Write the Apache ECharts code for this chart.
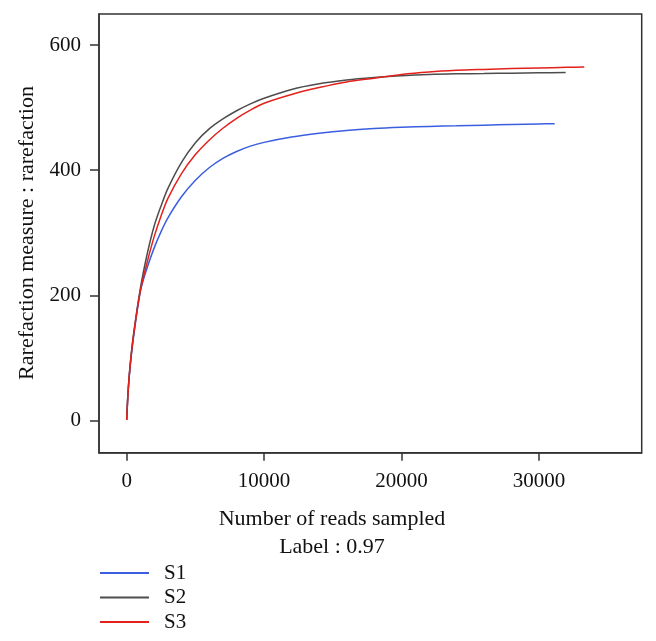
<!DOCTYPE html>
<html>
<head>
<meta charset="utf-8">
<script src="https://cdn.jsdelivr.net/npm/echarts@6/dist/echarts.min.js"></script>
<style>
html,body{margin:0;padding:0;background:#fff;}
#chart{width:656px;height:641px;}
</style>
</head>
<body>
<div id="chart"></div>
<script>
// ---- data ----
const seriesNames = ['S1', 'S2', 'S3'];
const s1X = [0, 100, 250, 500, 1000, 1500, 2000, 2500, 3000, 4000, 5000, 6000, 7000, 8000, 9000, 10000, 12000, 14000, 16000, 18000, 20000, 22000, 24000, 26000, 28000, 30000, 31150];
const s1Y = [1, 45, 86, 134, 207, 245, 276, 302, 324, 358, 384, 404, 419, 430, 438.5, 444.5, 453, 459, 463.5, 466.5, 468.5, 470, 471, 472, 473, 474, 474.3];
const s2X = [0, 100, 250, 500, 1000, 1500, 2000, 2500, 3000, 4000, 5000, 6000, 7000, 8000, 9000, 10000, 12000, 14000, 16000, 18000, 20000, 22000, 24000, 26000, 28000, 30000, 31950];
const s2Y = [1, 46, 89, 138, 212, 267, 311, 343, 371, 413, 444, 466, 482, 495, 506, 515, 529, 538, 544, 548, 551, 553, 554, 554.5, 555, 555.5, 556];
const s3X = [0, 100, 250, 500, 1000, 1500, 2000, 2500, 3000, 4000, 5000, 6000, 7000, 8000, 9000, 10000, 12000, 14000, 16000, 18000, 20000, 22000, 24000, 26000, 28000, 30000, 32000, 33300];
const s3Y = [1, 46, 88, 137, 208, 254, 294, 327, 355, 395, 425, 448, 467, 483, 496, 507, 521, 532, 541, 547, 553, 557, 559.5, 561, 562.3, 563.3, 564.3, 565];
const xTicks = [0, 10000, 20000, 30000];
const yTicks = [0, 200, 400, 600];
const xTitle = 'Number of reads sampled';
const subTitle = 'Label : 0.97';
const yTitle = 'Rarefaction measure : rarefaction';

const colors = ['#3b5ee0', '#4d4d4d', '#e3211c'];
const FONT = 'Liberation Serif';

function pairs(xs, ys) { return xs.map((x, i) => [x, ys[i]]); }
const seriesData = [pairs(s1X, s1Y), pairs(s2X, s2Y), pairs(s3X, s3Y)];

const chart = echarts.init(document.getElementById('chart'), null, {renderer: 'canvas'});
const option = {
  animation: false,
  backgroundColor: '#fff',
  color: colors,
  grid: {
    left: 99, top: 14, width: 542.7, height: 438.7,
    show: true, borderColor: '#333', borderWidth: 1.5, backgroundColor: 'transparent'
  },
  xAxis: {
    type: 'value', min: -2016, max: 37482,
    axisLine: {show: true, onZero: false, lineStyle: {color: '#333', width: 1.5}},
    axisTick: {show: true, length: 8, lineStyle: {color: '#333', width: 1.5}, customValues: xTicks},
    axisLabel: {color: '#111', fontFamily: FONT, fontSize: 21, margin: 18, customValues: xTicks,
      formatter: v => String(v)},
    splitLine: {show: false}
  },
  yAxis: {
    type: 'value', min: -51.1, max: 649.5,
    axisLine: {show: true, onZero: false, lineStyle: {color: '#333', width: 1.5}},
    axisTick: {show: true, length: 9, lineStyle: {color: '#333', width: 1.5}, customValues: yTicks},
    axisLabel: {color: '#111', fontFamily: FONT, fontSize: 21, margin: 18, customValues: yTicks,
      formatter: v => String(v)},
    splitLine: {show: false}
  },
  legend: {
    data: seriesNames,
    orient: 'vertical',
    left: 100, top: 562, height: 120, padding: 0,
    icon: 'rect', itemWidth: 49, itemHeight: 2, itemGap: 2.5,
    textStyle: {fontFamily: FONT, fontSize: 21, color: '#111', lineHeight: 22, padding: [0, 0, 0, 10]}
  },
  graphic: [
    {type: 'text', x: 332, y: 519,
      style: {text: xTitle, font: '22px "Liberation Serif"', fill: '#111', textAlign: 'center', textVerticalAlign: 'middle'}},
    {type: 'text', x: 332, y: 547,
      style: {text: subTitle, font: '22px "Liberation Serif"', fill: '#111', textAlign: 'center', textVerticalAlign: 'middle'}},
    {type: 'text', x: 27, y: 233, rotation: Math.PI / 2,
      style: {text: yTitle, font: '22px "Liberation Serif"', fill: '#111', textAlign: 'center', textVerticalAlign: 'middle'}}
  ],
  series: seriesNames.map((n, i) => ({
    name: n, type: 'line', data: seriesData[i],
    showSymbol: false, symbol: 'none', smooth: 0.3,
    lineStyle: {width: 1.5, color: colors[i]}
  }))
};
chart.setOption(option);
</script>
</body>
</html>
